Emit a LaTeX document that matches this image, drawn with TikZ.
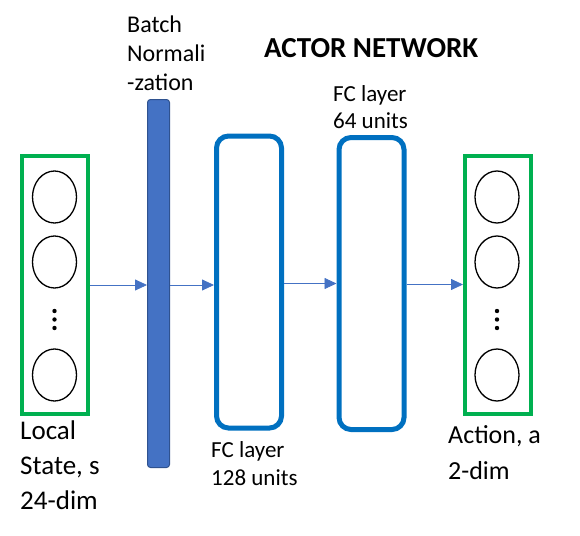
\documentclass[tikz,border=0pt]{standalone}
\usepackage{fontspec}
\setmainfont{Carlito}
\usetikzlibrary{shapes.geometric,arrows.meta}
\definecolor{inputgreen}{HTML}{00B050}
\definecolor{fcblue}{HTML}{0070C0}
\definecolor{bnblue}{HTML}{4472C4}
\definecolor{bnedge}{HTML}{2F528F}

\begin{document}
\begin{tikzpicture}[x=1pt, y=-1pt,
    vecbox/.style={draw=inputgreen, line width=4pt, minimum width=66pt, minimum height=258pt, inner sep=0},
    fclayer/.style={draw=fcblue, line width=5pt, rounded corners=12pt, minimum width=65pt, minimum height=292pt, inner sep=0},
    unit/.style={ellipse, draw, line width=1.3pt, minimum width=44pt, minimum height=52pt, inner sep=0},
    flow/.style={bnblue, line width=0.8pt, -{Triangle[length=12pt, width=11pt]}},
    label/.style={anchor=base west, inner sep=0, align=left}]
\useasboundingbox (0,0) rectangle (580,535);

    % Draw layers
    \node[vecbox] (state) at (55,285) {};
    \node[draw=bnedge, fill=bnblue, line width=1pt, rounded corners=3pt, minimum width=22pt, minimum height=368pt, inner sep=0] (bn) at (158.5,283.5) {};
    \node[fclayer] (fc1) at (249,282) {};
    \node[fclayer] (fc2) at (371.5,283.5) {};
    \node[vecbox] (action) at (498,284.5) {};

    % Draw units
    \foreach \y [count=\i] in {197,262,375} {
        \node[unit] (s\i) at (54.5,\y) {};
        \node[unit] (a\i) at (497,\y) {};
    }
    \foreach \y in {311,319.5,328} {
        \fill (54.5,\y) circle (2.2pt);
        \fill (497,\y) circle (2.2pt);
    }

    % Draw connections
    \draw[flow] (state.east) -- (state.east -| bn.west);
    \draw[flow] (bn.east |- state.east) -- (bn.east |- state.east -| fc1.west);
    \draw[flow] (fc1.east |- fc2.west) -- (fc2.west);
    \draw[flow] (fc2.east |- action.west) -- (action.west);

    % Labels (base = last line)
    \node[label, font=\fontsize{24}{29}\selectfont] (bnlabel) at (127,90) {Batch\\Normali\\-zation};
    \node[label, font=\fontsize{29}{34}\bfseries] (title) at (264,57) {ACTOR NETWORK};
    \node[label, font=\fontsize{23}{27}\selectfont] (fc2label) at (333,128) {FC layer\\64 units};
    \node[label, font=\fontsize{23}{28}\selectfont] (fc1label) at (211,485) {FC layer\\128 units};
    \node[label, font=\fontsize{27}{35}\selectfont] (statelabel) at (20,509) {Local\\State, s\\24-dim};
    \node[label, font=\fontsize{26}{36}\selectfont] (actionlabel) at (448,479) {Action, a\\2-dim};
\end{tikzpicture}
\end{document}
